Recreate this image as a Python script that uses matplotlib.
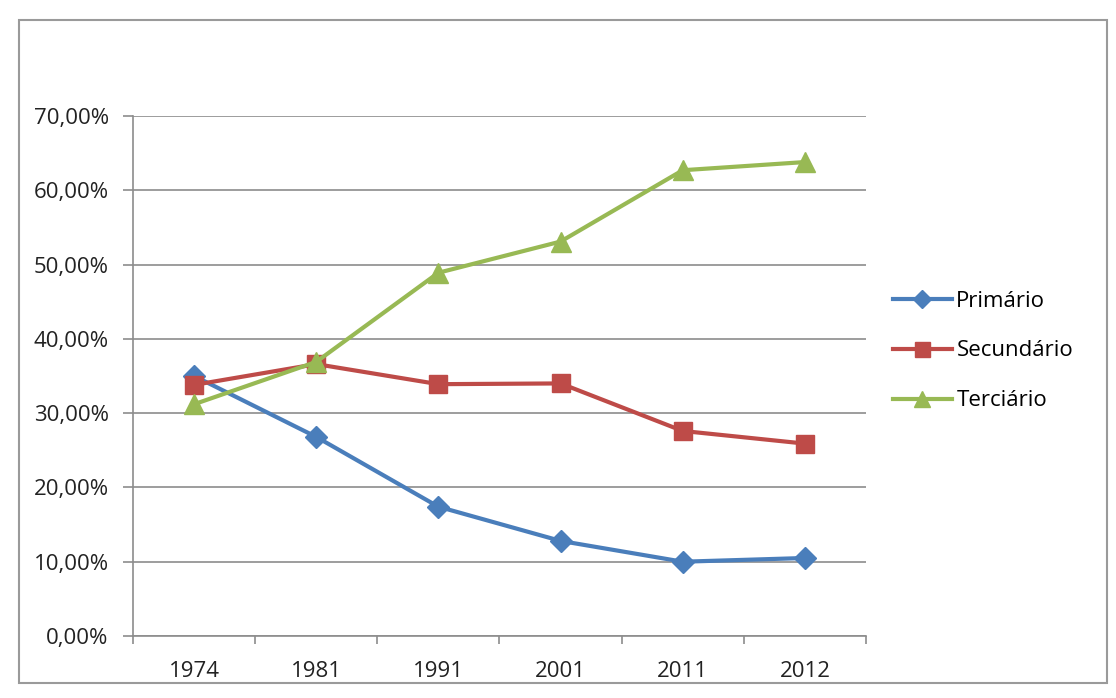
import matplotlib
matplotlib.use("Agg")
import matplotlib.pyplot as plt
from matplotlib.patches import Rectangle
from matplotlib.ticker import FuncFormatter, FixedLocator

years = ["1974", "1981", "1991", "2001", "2011", "2012"]
primario = [35.0, 26.8, 17.4, 12.8, 10.0, 10.5]
secundario = [33.8, 36.6, 33.9, 34.0, 27.6, 25.9]
terciario = [31.2, 36.9, 48.9, 53.1, 62.7, 63.8]
series_names = ["Primário", "Secundário", "Terciário"]

W, H = 1116, 698
fig = plt.figure(figsize=(W / 100, H / 100), dpi=100)
fig.patch.set_facecolor("white")
plt.rcParams["font.family"] = ["Open Sans", "DejaVu Sans"]
FS = 16

# outer chart border
fig.add_artist(Rectangle((19 / W, 1 - 683 / H), (1107 - 19) / W, (683 - 20) / H,
                         transform=fig.transFigure, fill=False, edgecolor="#9a9a9a", lw=1.5))

ax = fig.add_axes([133 / W, 1 - 636 / H, (866 - 133) / W, (636 - 116) / H])
x = list(range(len(years)))
grid_c = "#8c8c8c"

ax.plot(x, primario, color="#4A7EBB", lw=3, marker="D", markersize=11, label=series_names[0], zorder=3)
ax.plot(x, secundario, color="#BE4B48", lw=3, marker="s", markersize=13.5, label=series_names[1], zorder=4)
ax.plot(x, terciario, color="#98B954", lw=3, marker="^", markersize=15, label=series_names[2], zorder=5)

ax.set_xlim(-0.5, len(years) - 0.5)
ax.set_ylim(0, 70)
ax.set_yticks(range(0, 71, 10))
ax.yaxis.set_major_formatter(FuncFormatter(lambda v, p: f"{v:.2f}".replace(".", ",") + "%"))
ax.yaxis.grid(True, color=grid_c, lw=1.2)
ax.set_axisbelow(True)

ax.set_xticks(x)
ax.set_xticklabels(years)
ax.xaxis.set_minor_locator(FixedLocator([i - 0.5 for i in range(len(years) + 1)]))
ax.tick_params(axis="x", which="major", length=0, pad=18, labelsize=FS, colors="#222222")
ax.tick_params(axis="x", which="minor", length=6, width=1.2, color=grid_c, direction="out")
ax.tick_params(axis="y", which="major", length=7.5, width=1.2, color=grid_c, pad=10, labelsize=FS, labelcolor="#222222")

for s in ["top", "right"]:
    ax.spines[s].set_visible(False)
for s in ["left", "bottom"]:
    ax.spines[s].set_color(grid_c)
    ax.spines[s].set_linewidth(1.2)

leg = ax.legend(loc="center left", bbox_to_anchor=(893 / W, 1 - 351 / H), bbox_transform=fig.transFigure,
                frameon=False, fontsize=FS, handlelength=2.65, handletextpad=0.2, labelspacing=1.3,
                borderpad=0, borderaxespad=0, markerscale=0.8)

fig.savefig("out.png", dpi=100, facecolor="white")
